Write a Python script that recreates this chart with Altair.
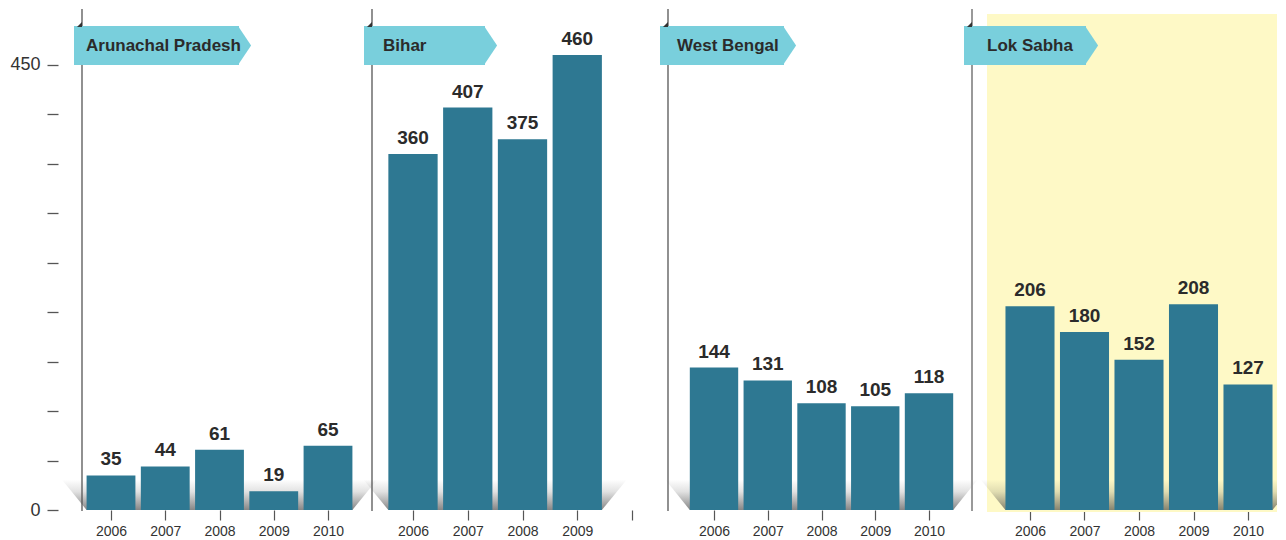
import altair as alt
import pandas as pd

# ---------------- data ----------------
years = [2006, 2007, 2008, 2009, 2010]
panel_names = ["Arunachal Pradesh", "Bihar", "West Bengal", "Lok Sabha"]
arunachal = [35, 44, 61, 19, 65]
bihar = [360, 407, 375, 460]
west_bengal = [144, 131, 108, 105, 118]
lok_sabha = [206, 180, 152, 208, 127]
y_tick_values = [0, 50, 100, 150, 200, 250, 300, 350, 400, 450]
y_labelled = [0, 450]

series = [arunachal, bihar, west_bengal, lok_sabha]

# ---------------- style / layout ----------------
FONT = "Liberation Sans"
BAR = "#2E7892"
RIB = "#79CFDC"
YEL = "#FEF9C6"
TXT = "#2b2b2b"
PLOT_H = 501
YMAX = PLOT_H / 0.9889
FLOOR_H = 31
HALF = 0.45
FLOOR_EXT = 0.46

layouts = [
    dict(width=290, first=29, step=54.25, rib_end=157, text_x=4, line="#555", lw=1.3, bg=False, hide2010=False),
    dict(width=296, first=41, step=54.75, rib_end=113, text_x=11, line="#555", lw=1.3, bg=False, hide2010=True),
    dict(width=304, first=46, step=53.75, rib_end=116, text_x=9, line="#555", lw=1.3, bg=False, hide2010=False),
    dict(width=305, first=58, step=54.5, rib_end=114, text_x=15, line="#999", lw=2, bg=True, hide2010=False),
]

grad = alt.Gradient(
    gradient="linear",
    stops=[alt.GradientStop(color="rgba(60,60,60,0)", offset=0),
           alt.GradientStop(color="rgba(60,60,60,0.15)", offset=0.4),
           alt.GradientStop(color="rgba(60,60,60,0.62)", offset=1)],
    x1=0, x2=0, y1=0, y2=1,
)

one = pd.DataFrame({"k": [0]})


def make_panel(idx):
    name = panel_names[idx]
    vals = series[idx]
    lay = layouts[idx]
    df = pd.DataFrame({"year": years[:len(vals)], "value": vals})
    lo, hi = df["year"].min(), df["year"].max()
    fdf = pd.DataFrame({
        "fy": [0, FLOOR_H],
        "fx1": [lo - HALF, lo - HALF - FLOOR_EXT],
        "fx2": [hi + HALF, hi + HALF + FLOOR_EXT],
    })

    dom = [2006 - lay["first"] / lay["step"], 2006 + (lay["width"] - lay["first"]) / lay["step"]]
    xs = alt.Scale(domain=dom, nice=False, zero=False)
    ys = alt.Scale(domain=[0, YMAX], nice=False, zero=True)

    xaxis_kw = dict(values=years, format="d", tickSize=10, tickColor="#555", tickWidth=1.2,
                    labelFontSize=14, labelFont=FONT, labelColor="#333", labelPadding=4,
                    domain=False, grid=False, title=None)
    if lay["hide2010"]:
        xaxis_kw["labelExpr"] = "datum.value == 2010 ? '' : datum.label"
    xaxis = alt.Axis(**xaxis_kw)
    if idx == 0:
        yaxis = alt.Axis(values=y_tick_values,
                         labelExpr="indexof(%s, datum.value) >= 0 ? datum.label : ''" % str(y_labelled),
                         tickSize=11, tickColor="#555", tickWidth=1.3, offset=24,
                         domain=False, grid=False, title=None,
                         labelFontSize=18, labelFont=FONT, labelColor="#333", labelPadding=7)
    else:
        yaxis = None

    layers = []
    if lay["bg"]:
        layers.append(alt.Chart(one).mark_rect(color=YEL).encode(
            x=alt.value(15), x2=alt.value(lay["width"]), y=alt.value(5), y2=alt.value(PLOT_H + 2)))

    floor = alt.Chart(fdf).mark_area(orient="horizontal", color=grad, clip=lay["bg"]).encode(
        y=alt.Y("fy:Q", scale=ys, axis=yaxis),
        x=alt.X("fx1:Q", scale=xs, axis=xaxis),
        x2="fx2:Q",
    )
    bars = alt.Chart(df).transform_calculate(
        x1="datum.year - %f" % HALF, x2="datum.year + %f" % HALF, zero="0"
    ).mark_rect(color=BAR).encode(
        x=alt.X("x1:Q", scale=xs, axis=xaxis),
        x2="x2:Q",
        y=alt.Y("value:Q", scale=ys, axis=yaxis),
        y2="zero:Q",
    )
    labels = alt.Chart(df).mark_text(baseline="bottom", dy=-6, fontSize=19, fontWeight="bold",
                                     font=FONT, color=TXT).encode(
        x=alt.X("year:Q", scale=xs, axis=xaxis),
        y=alt.Y("value:Q", scale=ys, axis=yaxis),
        text="value:Q",
    )
    line = alt.Chart(one).mark_rule(color=lay["line"], strokeWidth=lay["lw"]).encode(
        x=alt.value(0), y=alt.value(0), y2=alt.value(PLOT_H + 1))
    rib = alt.Chart(one).mark_rect(color=RIB).encode(
        x=alt.value(-8), x2=alt.value(lay["rib_end"]), y=alt.value(17), y2=alt.value(56))
    tip = alt.Chart(one).mark_point(shape="M-0.05,-1L0.62,0L-0.05,1Z", size=1521, filled=True,
                                    color=RIB, opacity=1, strokeWidth=0).encode(
        x=alt.value(lay["rib_end"]), y=alt.value(36.5))
    fold = alt.Chart(one).mark_point(shape="M-1,1L1,1L1,-1Z", size=25, filled=True,
                                     color="#333", opacity=1, strokeWidth=0).encode(
        x=alt.value(-2.5), y=alt.value(15.5))
    title = alt.Chart(one).mark_text(align="left", baseline="middle", fontSize=17, fontWeight="bold",
                                     font=FONT, color=TXT).encode(
        x=alt.value(lay["text_x"]), y=alt.value(37), text=alt.value(name))

    layers += [floor, bars, labels, line, rib, tip, fold, title]
    return alt.layer(*layers).properties(width=lay["width"], height=PLOT_H)


chart = alt.hconcat(*[make_panel(i) for i in range(4)], spacing=0, bounds="flush").resolve_scale(
    x="independent", y="independent"
).properties(
    padding={"left": 1, "top": 0, "right": 0, "bottom": 0}
).configure_view(stroke=None)

chart.save("out.html", embed_options={"renderer": "svg", "actions": False})
